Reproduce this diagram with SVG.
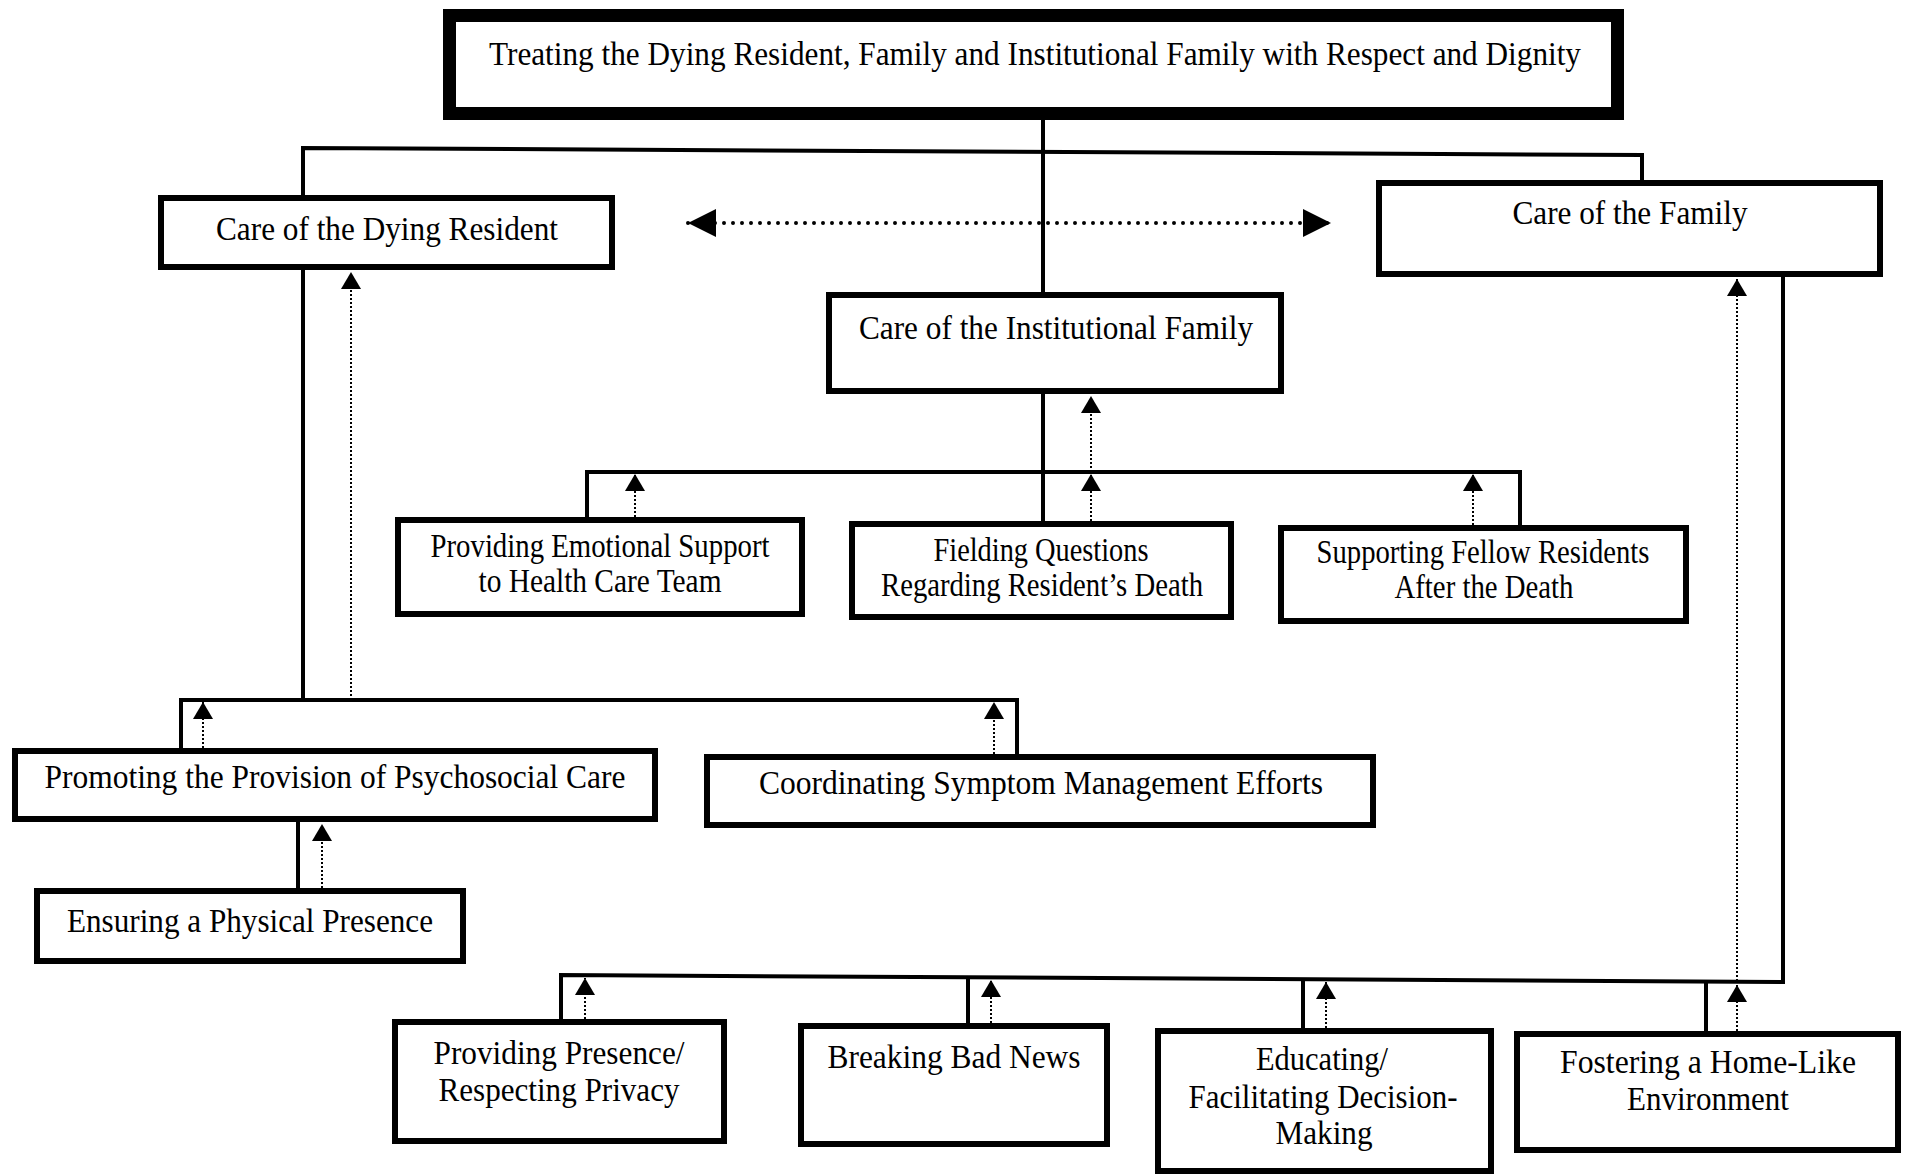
<svg xmlns="http://www.w3.org/2000/svg" width="1907" height="1174" viewBox="0 0 1907 1174">
  <defs>
    <style>
      .box { fill: #ffffff; stroke: #000000; stroke-width: 6; }
      .box-main { fill: #ffffff; stroke: #000000; stroke-width: 13; }
      .solid { fill: none; stroke: #000000; stroke-width: 4; stroke-linejoin: miter; }
      .dots { fill: none; stroke: #000000; stroke-width: 2; stroke-dasharray: 2 2; }
      .link { fill: none; stroke: #000000; stroke-width: 4; stroke-linecap: round; stroke-dasharray: 0 9; }
      .label { font-family: "Liberation Serif", "Times New Roman", serif; font-size: 33px; fill: #000000; text-anchor: middle; }
    </style>
    <marker id="tip" viewBox="0 0 17 20" refX="17" refY="10" markerWidth="17" markerHeight="20" markerUnits="userSpaceOnUse" orient="auto">
      <path d="M0,0 L17,10 L0,20 Z" fill="#000000"/>
    </marker>
    <marker id="tip-big" viewBox="0 0 28 28" refX="28" refY="14" markerWidth="28" markerHeight="28" markerUnits="userSpaceOnUse" orient="auto-start-reverse">
      <path d="M0,0 L28,14 L0,28 Z" fill="#000000"/>
    </marker>
  </defs>
  <rect width="1907" height="1174" fill="#ffffff"/>

  <!-- connectors -->
  <g id="connectors">
    <!-- trunk from the main box down to the institutional branch -->
    <path class="solid" d="M1043,112 V521"/>
    <!-- bar feeding the resident and family branches -->
    <path class="solid" d="M303,195 V148 L1642,155 V180"/>
    <!-- two-way link between resident and family -->
    <path class="link" d="M688,223 H1331" marker-start="url(#tip-big)" marker-end="url(#tip-big)"/>

    <!-- institutional family sub-branch -->
    <path class="solid" d="M587,517 V472 H1520 V525"/>
    <path class="dots" d="M635,517 V474" marker-end="url(#tip)"/>
    <path class="dots" d="M1091,521 V474" marker-end="url(#tip)"/>
    <path class="dots" d="M1091,472 V396" marker-end="url(#tip)"/>
    <path class="dots" d="M1473,525 V474" marker-end="url(#tip)"/>

    <!-- dying resident sub-branch -->
    <path class="solid" d="M303,270 V700"/>
    <path class="solid" d="M181,748 V700 H1017 V754"/>
    <path class="dots" d="M351,700 V272" marker-end="url(#tip)"/>
    <path class="dots" d="M203,748 V702" marker-end="url(#tip)"/>
    <path class="dots" d="M994,754 V702" marker-end="url(#tip)"/>
    <path class="solid" d="M298,888 V822"/>
    <path class="dots" d="M322,888 V824" marker-end="url(#tip)"/>

    <!-- family sub-branch -->
    <path class="solid" d="M1783,277 V982 L561,975 V1019"/>
    <path class="solid" d="M968,977 V1023"/>
    <path class="solid" d="M1303,979 V1028"/>
    <path class="solid" d="M1706,981 V1031"/>
    <path class="dots" d="M585,1019 V978" marker-end="url(#tip)"/>
    <path class="dots" d="M991,1023 V980" marker-end="url(#tip)"/>
    <path class="dots" d="M1326,1028 V982" marker-end="url(#tip)"/>
    <path class="dots" d="M1737,1031 V985" marker-end="url(#tip)"/>
    <path class="dots" d="M1737,981 V279" marker-end="url(#tip)"/>
  </g>

  <!-- nodes -->
  <g id="node-root">
    <rect class="box-main" x="449.5" y="15.5" width="1168" height="98"/>
    <text class="label" x="1035" y="65" textLength="1092" lengthAdjust="spacingAndGlyphs">Treating the Dying Resident, Family and Institutional Family with Respect and Dignity</text>
  </g>
  <g id="node-resident">
    <rect class="box" x="161" y="198" width="451" height="69"/>
    <text class="label" x="387" y="240" textLength="342" lengthAdjust="spacingAndGlyphs">Care of the Dying Resident</text>
  </g>
  <g id="node-family">
    <rect class="box" x="1379" y="183" width="501" height="91"/>
    <text class="label" x="1630" y="224" textLength="235" lengthAdjust="spacingAndGlyphs">Care of the Family</text>
  </g>
  <g id="node-institutional">
    <rect class="box" x="829" y="295" width="452" height="96"/>
    <text class="label" x="1056" y="339" textLength="394" lengthAdjust="spacingAndGlyphs">Care of the Institutional Family</text>
  </g>
  <g id="node-emotional-support">
    <rect class="box" x="398" y="520" width="404" height="94"/>
    <text class="label" x="600" y="557" textLength="339" lengthAdjust="spacingAndGlyphs">Providing Emotional Support</text>
    <text class="label" x="600" y="592" textLength="243" lengthAdjust="spacingAndGlyphs">to Health Care Team</text>
  </g>
  <g id="node-fielding">
    <rect class="box" x="852" y="524" width="379" height="93"/>
    <text class="label" x="1041" y="561" textLength="215" lengthAdjust="spacingAndGlyphs">Fielding Questions</text>
    <text class="label" x="1042" y="596" textLength="322" lengthAdjust="spacingAndGlyphs">Regarding Resident’s Death</text>
  </g>
  <g id="node-fellow-residents">
    <rect class="box" x="1281" y="528" width="405" height="93"/>
    <text class="label" x="1483" y="563" textLength="333" lengthAdjust="spacingAndGlyphs">Supporting Fellow Residents</text>
    <text class="label" x="1484" y="598" textLength="179" lengthAdjust="spacingAndGlyphs">After the Death</text>
  </g>
  <g id="node-psychosocial">
    <rect class="box" x="15" y="751" width="640" height="68"/>
    <text class="label" x="335" y="788" textLength="581" lengthAdjust="spacingAndGlyphs">Promoting the Provision of Psychosocial Care</text>
  </g>
  <g id="node-symptoms">
    <rect class="box" x="707" y="757" width="666" height="68"/>
    <text class="label" x="1041" y="794" textLength="564" lengthAdjust="spacingAndGlyphs">Coordinating Symptom Management Efforts</text>
  </g>
  <g id="node-physical-presence">
    <rect class="box" x="37" y="891" width="426" height="70"/>
    <text class="label" x="250" y="932" textLength="366" lengthAdjust="spacingAndGlyphs">Ensuring a Physical Presence</text>
  </g>
  <g id="node-presence-privacy">
    <rect class="box" x="395" y="1022" width="329" height="119"/>
    <text class="label" x="559" y="1064" textLength="251" lengthAdjust="spacingAndGlyphs">Providing Presence/</text>
    <text class="label" x="559" y="1101" textLength="241" lengthAdjust="spacingAndGlyphs">Respecting Privacy</text>
  </g>
  <g id="node-bad-news">
    <rect class="box" x="801" y="1026" width="306" height="118"/>
    <text class="label" x="954" y="1068" textLength="253" lengthAdjust="spacingAndGlyphs">Breaking Bad News</text>
  </g>
  <g id="node-decision-making">
    <rect class="box" x="1158" y="1031" width="333" height="140"/>
    <text class="label" x="1322" y="1070" textLength="132" lengthAdjust="spacingAndGlyphs">Educating/</text>
    <text class="label" x="1323" y="1108" textLength="269" lengthAdjust="spacingAndGlyphs">Facilitating Decision-</text>
    <text class="label" x="1324" y="1144" textLength="97" lengthAdjust="spacingAndGlyphs">Making</text>
  </g>
  <g id="node-home-like">
    <rect class="box" x="1517" y="1034" width="381" height="116"/>
    <text class="label" x="1708" y="1073" textLength="296" lengthAdjust="spacingAndGlyphs">Fostering a Home-Like</text>
    <text class="label" x="1708" y="1110" textLength="162" lengthAdjust="spacingAndGlyphs">Environment</text>
  </g>
</svg>
